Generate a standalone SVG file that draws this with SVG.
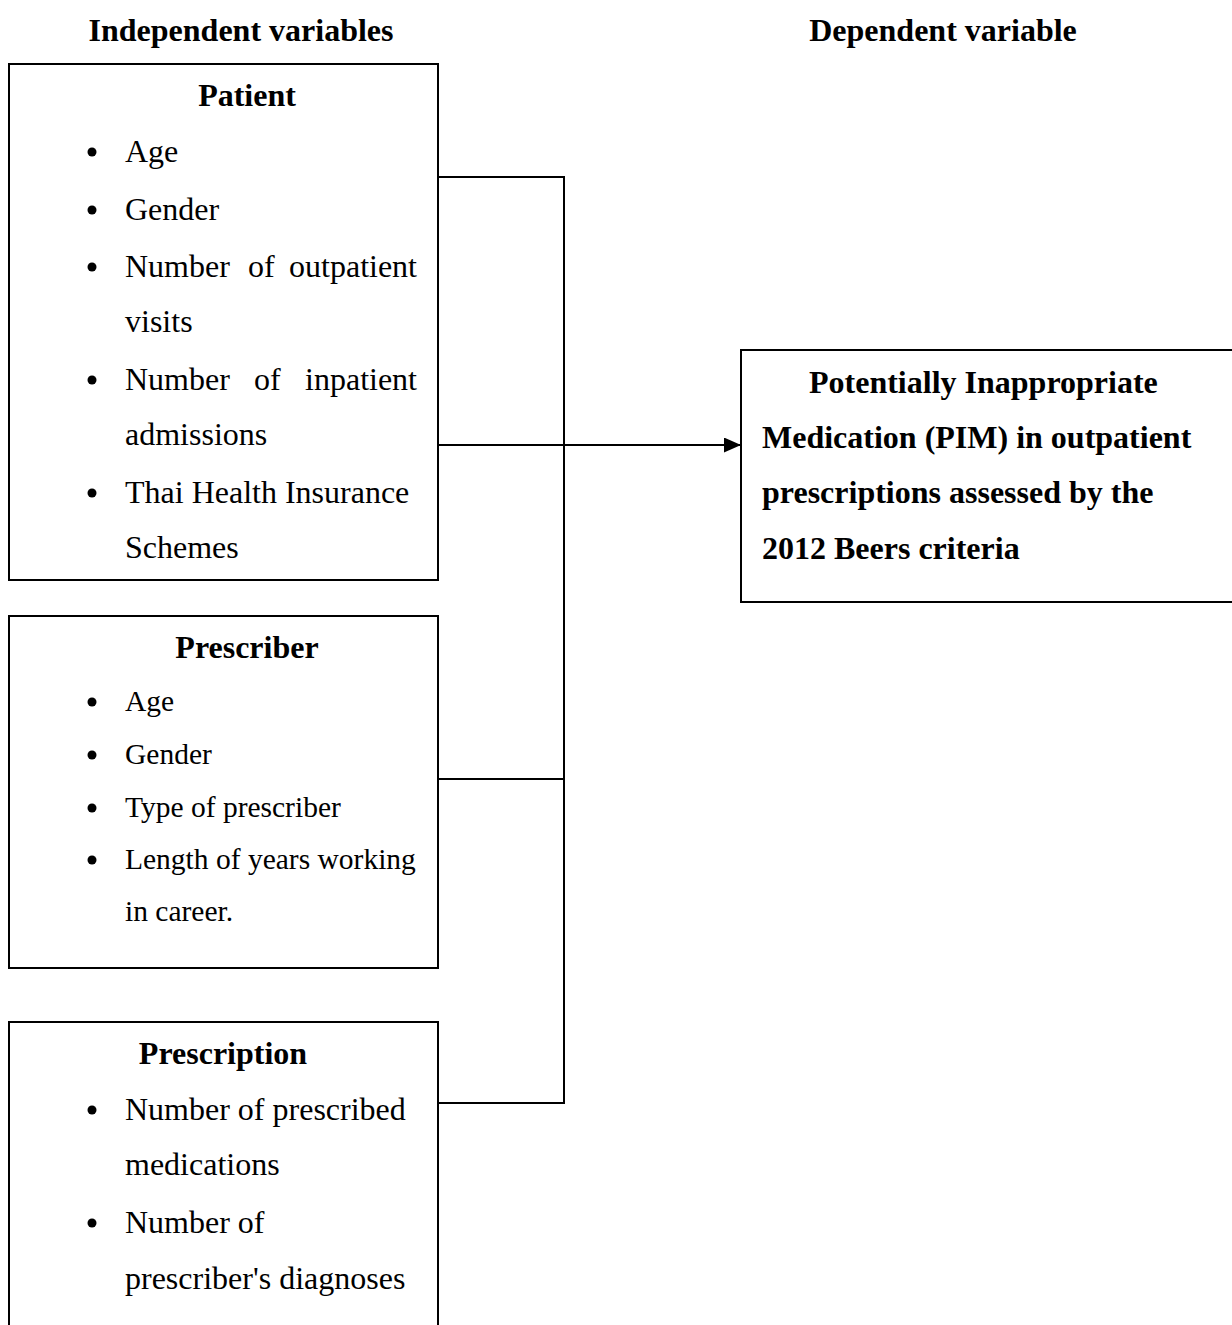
<svg xmlns="http://www.w3.org/2000/svg" width="1232" height="1325" viewBox="0 0 1232 1325">
<style>
.box{fill:#fff;stroke:#000;stroke-width:2}
.t{font-family:"Liberation Serif","Times New Roman",serif;fill:#000}
.b{font-weight:bold;font-size:32px}
.i32{font-size:32px}
.i29{font-size:29.5px}
.con{fill:none;stroke:#000;stroke-width:2}
</style>
<defs>
<marker id="arr" markerWidth="17" markerHeight="15" refX="17" refY="7.5" orient="auto" markerUnits="userSpaceOnUse">
<path d="M0,0 L17,7.5 L0,15 Z" fill="#000"/>
</marker>
</defs>
<rect width="1232" height="1325" fill="#fff"/>
<text class="t b" x="241" y="41" text-anchor="middle">Independent variables</text>
<text class="t b" x="943" y="41" text-anchor="middle">Dependent variable</text>

<g id="connectors">
<polyline class="con" points="438,177 564,177 564,1103 438,1103"/>
<line class="con" x1="438" y1="779" x2="564" y2="779"/>
<line class="con" x1="438" y1="445" x2="741" y2="445" marker-end="url(#arr)"/>
</g>

<g id="patient">
<rect class="box" x="9" y="64" width="429" height="516"/>
<text class="t b" x="247" y="106" text-anchor="middle">Patient</text>
<circle cx="92" cy="152" r="4.5"/><text class="t i32" x="125" y="162">Age</text>
<circle cx="92" cy="210" r="4.5"/><text class="t i32" x="125" y="220">Gender</text>
<circle cx="92" cy="267" r="4.5"/><text class="t i32" y="277"><tspan x="125">Number</tspan><tspan x="248">of</tspan><tspan x="417" text-anchor="end">outpatient</tspan></text>
<text class="t i32" x="125" y="332">visits</text>
<circle cx="92" cy="380" r="4.5"/><text class="t i32" y="390"><tspan x="125">Number</tspan><tspan x="254">of</tspan><tspan x="417" text-anchor="end">inpatient</tspan></text>
<text class="t i32" x="125" y="445">admissions</text>
<circle cx="92" cy="493" r="4.5"/><text class="t i32" x="125" y="503">Thai Health Insurance</text>
<text class="t i32" x="125" y="558">Schemes</text>
</g>

<g id="prescriber">
<rect class="box" x="9" y="616" width="429" height="352"/>
<text class="t b" x="247" y="658" text-anchor="middle">Prescriber</text>
<circle cx="92" cy="702" r="4.5"/><text class="t i29" x="125" y="711">Age</text>
<circle cx="92" cy="755" r="4.5"/><text class="t i29" x="125" y="764">Gender</text>
<circle cx="92" cy="808" r="4.5"/><text class="t i29" x="125" y="817">Type of prescriber</text>
<circle cx="92" cy="860" r="4.5"/><text class="t i29" x="125" y="869">Length of years working</text>
<text class="t i29" x="125" y="921">in career.</text>
</g>

<g id="prescription">
<rect class="box" x="9" y="1022" width="429" height="320"/>
<text class="t b" x="223" y="1064" text-anchor="middle">Prescription</text>
<circle cx="92" cy="1110" r="4.5"/><text class="t i32" x="125" y="1120">Number of prescribed</text>
<text class="t i32" x="125" y="1175">medications</text>
<circle cx="92" cy="1223" r="4.5"/><text class="t i32" x="125" y="1233">Number of</text>
<text class="t i32" x="125" y="1289">prescriber's diagnoses</text>
</g>

<g id="pim">
<rect class="box" x="741" y="350" width="510" height="252"/>
<text class="t b" x="809" y="393">Potentially Inappropriate</text>
<text class="t b" x="762" y="448">Medication (PIM) in outpatient</text>
<text class="t b" x="762" y="503">prescriptions assessed by the</text>
<text class="t b" x="762" y="559">2012 Beers criteria</text>
</g>
</svg>
